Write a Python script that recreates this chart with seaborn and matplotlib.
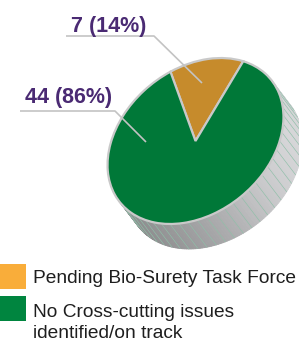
import numpy as np
import matplotlib
matplotlib.use("Agg")
import matplotlib.pyplot as plt
from matplotlib.patches import Rectangle, Polygon
from matplotlib.transforms import Affine2D
import seaborn as sns

# ---- data ----
categories = ["Pending Bio-Surety Task Force", "No Cross-cutting issues\nidentified/on track"]
counts = [7, 44]
percents = [14, 86]
pie_colors = ["#C68B2C", "#007838"]
legend_colors = ["#F9AD3A", "#00853F"]

sns.set_theme(style="white")
plt.rcParams['font.family'] = ['Liberation Sans', 'DejaVu Sans']

W, H = 299, 341
fig = plt.figure(figsize=(W / 100, H / 100), dpi=100)
ax = fig.add_axes([0, 0, 1, 1])

# ellipse geometry (pixels, y up)
cx, cy = 195.5, H - 141
a, b = 97.3, 71.8
theta = 39.3
off = np.array([19.0, -25.0])

tilt = Affine2D().translate(-cx, -cy).scale(1, b / a).rotate_deg(theta).translate(cx, cy)

# ---- 3D side ----
ts = np.linspace(0, 2 * np.pi, 241)
pts = tilt.transform(np.column_stack([cx + a * np.cos(ts), cy + a * np.sin(ts)]))
for i in range(len(ts) - 1):
    p0, p1 = pts[i], pts[i + 1]
    tang = p1 - p0
    normal = np.array([tang[1], -tang[0]])
    if normal @ off <= 0:
        continue
    mid = (p0 + p1) / 2 - np.array([cx, cy])
    ang = np.arctan2(mid[1], mid[0])
    shade = 0.69 + 0.15 * np.cos(ang - np.deg2rad(20))
    col = (shade, shade, min(shade * 1.01, 1))
    poly = Polygon([p0, p1, p1 + off, p0 + off], closed=True,
                   facecolor=col, edgecolor=col, linewidth=0.6, zorder=1)
    ax.add_patch(poly)
    if i % 4 == 0:
        ax.plot([p0[0], p0[0] + off[0]], [p0[1], p0[1] + off[1]],
                color="#8FBFA8", linewidth=0.45, zorder=1.5)

# ---- pie top ----
wedges, _ = ax.pie(counts, colors=pie_colors, startangle=26, counterclock=True,
                   center=(cx, cy), radius=a,
                   wedgeprops=dict(edgecolor="#C9C9C9", linewidth=1.6))
for w in wedges:
    w.set_transform(tilt + ax.transData)
    w.set_zorder(3)
ax.set_xlim(0, W)
ax.set_ylim(0, H)
ax.set_aspect('equal')
ax.axis('off')

# ---- labels with leader lines ----
purple = "#4A2A73"
lead = "#C3C3C3"
lab_pos = [(71, H - 32), (25, H - 103)]
leaders = [
    [(66, H - 36), (154, H - 36), (202, H - 83)],
    [(20, H - 111), (115, H - 111), (146, H - 142)],
]
for c, p, (tx, ty), ld in zip(counts, percents, lab_pos, leaders):
    ax.text(tx, ty, f"{c} ({p}%)", ha='left', va='baseline', color=purple,
            fontsize=15.5, fontweight='bold', zorder=5)
    xs, ys = zip(*ld)
    ax.plot(xs, ys, color=lead, linewidth=1.2, zorder=4, solid_capstyle='butt')

# ---- legend ----
sq_tops = [264, 296]
baselines = [283, 338]
for cat, col, top, bl in zip(categories, legend_colors, sq_tops, baselines):
    ax.add_patch(Rectangle((0, H - top - 25), 26, 25, facecolor=col,
                           edgecolor='none', zorder=5))
    ax.text(33, H - bl, cat, ha='left', va='baseline', color="#1E1E1E",
            fontsize=13.8, linespacing=1.3, zorder=5)

fig.savefig("out.png", dpi=100)
